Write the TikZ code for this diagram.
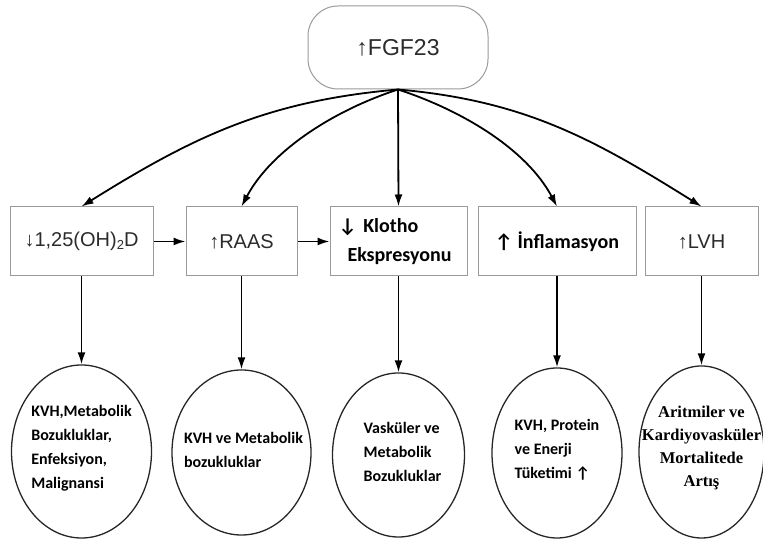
\documentclass[tikz,border=0pt]{standalone}
\usepackage{fontspec}
\setmainfont{Liberation Sans}
\newfontfamily\calfont{Carlito}
\newfontfamily\serfont{Liberation Serif}
\usetikzlibrary{arrows.meta, shapes.geometric}
\definecolor{boxgray}{HTML}{9A9A9A}
\definecolor{inkgray}{HTML}{2B2B2B}
\newcommand{\subtwo}{\raisebox{-0.3ex}{\fontsize{13}{13}\selectfont 2}}

\begin{document}
\begin{tikzpicture}[
    x=1pt, y=1pt,
    >={Latex[length=12pt,width=8pt]}, % filled arrow tips
    box/.style={draw=boxgray, line width=1pt, minimum height=69pt, inner sep=0pt},
    arialtext/.style={text=inkgray, font=\fontsize{20}{24}\selectfont},
    caltext/.style={font=\calfont\bfseries\fontsize{20}{29}\selectfont},
    blob/.style={draw=black!85, line width=1.3pt, ellipse, inner sep=0pt},
    etext/.style={font=\calfont\bfseries\fontsize{16}{24}\selectfont, align=left, yshift=3pt},
    arr/.style={->, line width=1.8pt}
]
\useasboundingbox (0,0) rectangle (763,545);

% Top node
\node[draw=boxgray, line width=1pt, rounded corners=30pt, minimum width=180pt,
      minimum height=83pt, text=inkgray, font=\fontsize{23}{27}\selectfont]
      (fgf) at (398,497.5) {↑FGF23};

% Middle row
\node[box, arialtext, minimum width=143pt] (vitd) at (81.5,303.5) {↓1,25(OH)\subtwo D};
\node[box, arialtext, minimum width=111pt] (raas) at (241.5,303.5) {↑RAAS};
\node[box, caltext, align=left, text width=120pt, minimum width=137pt] (klotho) at (398.5,303.5) {↓ Klotho\\\hspace*{9pt}Ekspresyonu};
\node[box, caltext, minimum width=158pt] (infl) at (557,303.5) {↑ İnflamasyon};
\node[box, arialtext, minimum width=113pt] (lvh) at (701.5,303.5) {↑LVH};

% Bottom row (outcomes)
\node[blob, minimum width=140pt, minimum height=173pt,
      label={[etext]center:{KVH,Metabolik\\Bozukluklar,\\Enfeksiyon,\\Malignansi}}] (e1) at (81.5,93.5) {};
\node[blob, minimum width=139pt, minimum height=165pt,
      label={[etext, xshift=2pt]center:{KVH ve Metabolik\\bozukluklar}}] (e2) at (241.5,92.5) {};
\node[blob, minimum width=132pt, minimum height=164pt,
      label={[etext, xshift=4pt]center:{Vasküler ve\\Metabolik\\Bozukluklar}}] (e3) at (398.5,90) {};
\node[blob, minimum width=130pt, minimum height=170pt,
      label={[etext]center:{KVH, Protein\\ve Enerji\\Tüketimi ↑}}] (e4) at (557,92) {};
\node[blob, minimum width=125pt, minimum height=172pt,
      label={[font=\serfont\bfseries\fontsize{16.5}{23}\selectfont, align=center, yshift=4pt]center:{Aritmiler ve\\Kardiyovasküler\\Mortalitede\\Artış}}] (e5) at (701.5,93) {};

% Arrows from FGF23
\draw[arr] (fgf.south) to[out=185, in=32] (vitd.north);
\draw[arr] (fgf.south) to[out=198, in=62, looseness=0.85] (raas.north);
\draw[arr] (fgf.south) -- (klotho.north);
\draw[arr] (fgf.south) to[out=-18, in=118, looseness=0.85] (infl.north);
\draw[arr] (fgf.south) to[out=-5, in=148] (lvh.north);

% Chain along the middle row
\draw[arr] (vitd) -- (raas);
\draw[arr] (raas) -- (klotho);

% Down to outcomes
\draw[arr] (vitd) -- (e1);
\draw[arr] (raas) -- (e2);
\draw[arr] (klotho) -- (e3);
\draw[arr] (infl) -- (e4);
\draw[arr] (lvh) -- (e5);
\end{tikzpicture}
\end{document}
